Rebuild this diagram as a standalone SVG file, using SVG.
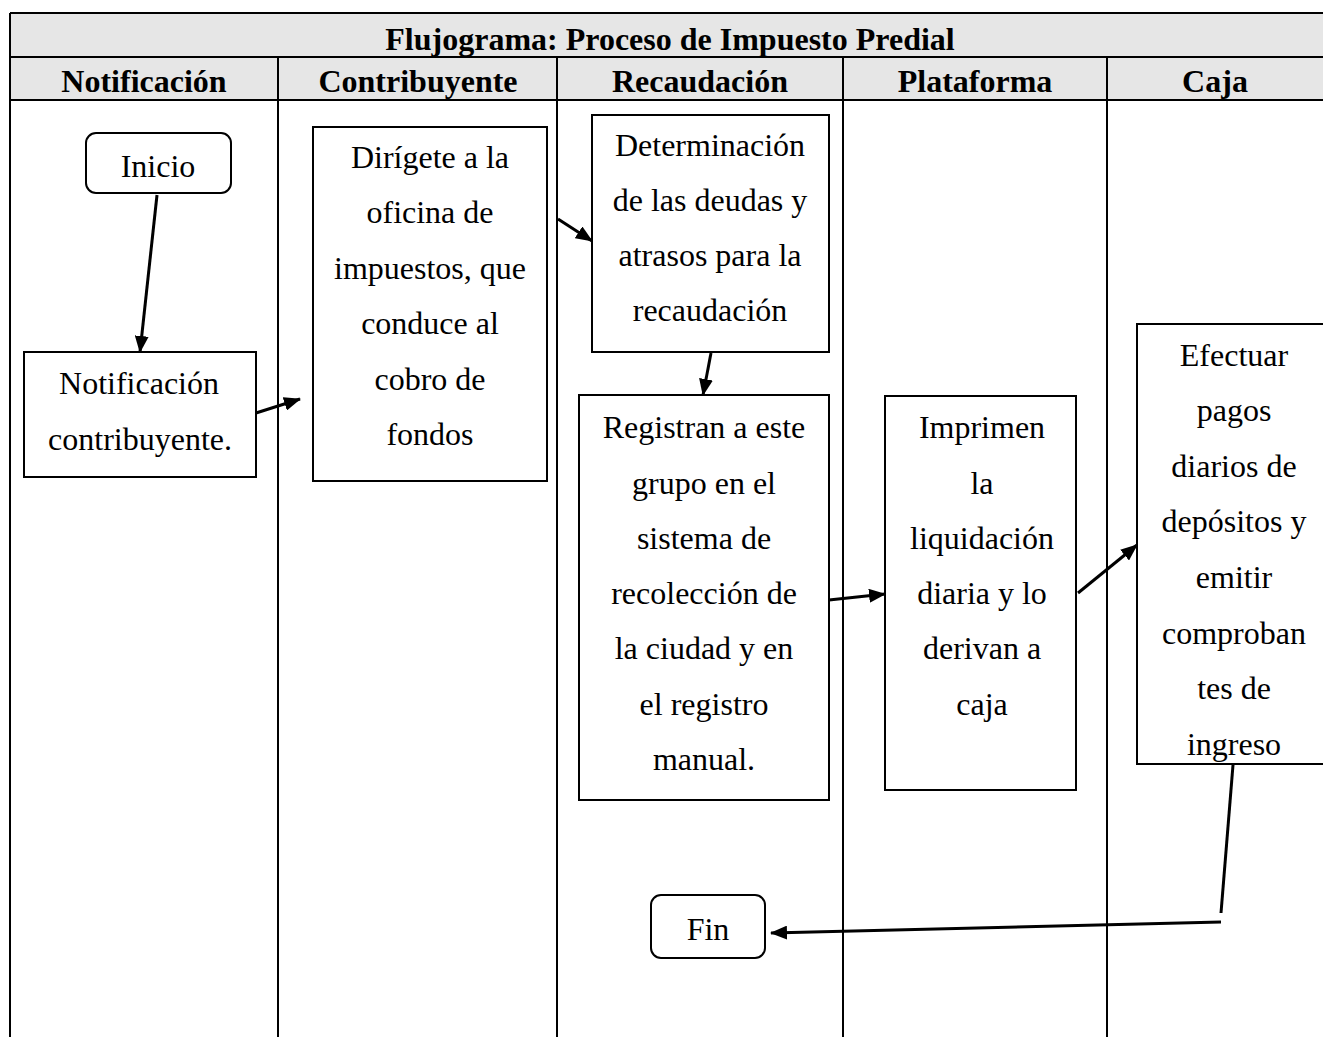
<svg xmlns="http://www.w3.org/2000/svg" width="1323" height="1037" viewBox="0 0 1323 1037">
<style>
.t{font-family:"Liberation Serif","Times New Roman",serif;font-size:32px;fill:#000;text-anchor:middle}
.h{font-family:"Liberation Serif","Times New Roman",serif;font-size:32px;font-weight:bold;fill:#000;text-anchor:middle}
.bx{fill:#fff;stroke:#000;stroke-width:2}
.grid{stroke:#000;stroke-width:2;fill:none}
.c{stroke:#000;stroke-width:3;fill:none}
</style>
<defs>
<marker id="ah" markerUnits="userSpaceOnUse" markerWidth="18" markerHeight="14" refX="16" refY="7" orient="auto">
<path d="M0,0 L17,7 L0,14 Z" fill="#000"/>
</marker>
</defs>
<g id="table">
<rect x="10" y="13" width="1330" height="87" fill="#e6e6e6"/>
<line class="grid" x1="10" y1="13" x2="1323" y2="13"/>
<line class="grid" x1="10" y1="57" x2="1323" y2="57"/>
<line class="grid" x1="10" y1="100" x2="1323" y2="100"/>
<line class="grid" x1="10" y1="13" x2="10" y2="1037"/>
<line class="grid" x1="278" y1="57" x2="278" y2="1037"/>
<line class="grid" x1="557" y1="57" x2="557" y2="1037"/>
<line class="grid" x1="843" y1="57" x2="843" y2="1037"/>
<line class="grid" x1="1107" y1="57" x2="1107" y2="1037"/>
<text class="h" x="670" y="50">Flujograma: Proceso de Impuesto Predial</text>
<text class="h" x="144" y="92">Notificación</text>
<text class="h" x="418" y="92">Contribuyente</text>
<text class="h" x="700" y="92">Recaudación</text>
<text class="h" x="975" y="92">Plataforma</text>
<text class="h" x="1215" y="92">Caja</text>
</g>
<g id="inicio">
<rect class="bx" x="86" y="133" width="145" height="60" rx="10"/>
<text class="t" x="158" y="177">Inicio</text>
</g>
<g id="notificacion">
<rect class="bx" x="24" y="352" width="232" height="125"/>
<text class="t" x="139" y="394">Notificación</text>
<text class="t" x="140" y="450">contribuyente.</text>
</g>
<g id="dirigete">
<rect class="bx" x="313" y="127" width="234" height="354"/>
<text class="t" x="430" y="168">Dirígete a la</text>
<text class="t" x="430" y="223">oficina de</text>
<text class="t" x="430" y="279">impuestos, que</text>
<text class="t" x="430" y="334">conduce al</text>
<text class="t" x="430" y="390">cobro de</text>
<text class="t" x="430" y="445">fondos</text>
</g>
<g id="determinacion">
<rect class="bx" x="592" y="115" width="237" height="237"/>
<text class="t" x="710" y="156">Determinación</text>
<text class="t" x="710" y="211">de las deudas y</text>
<text class="t" x="710" y="266">atrasos para la</text>
<text class="t" x="710" y="321">recaudación</text>
</g>
<g id="registran">
<rect class="bx" x="579" y="395" width="250" height="405"/>
<text class="t" x="704" y="438">Registran a este</text>
<text class="t" x="704" y="494">grupo en el</text>
<text class="t" x="704" y="549">sistema de</text>
<text class="t" x="704" y="604">recolección de</text>
<text class="t" x="704" y="659">la ciudad y en</text>
<text class="t" x="704" y="715">el registro</text>
<text class="t" x="704" y="770">manual.</text>
</g>
<g id="imprimen">
<rect class="bx" x="885" y="396" width="191" height="394"/>
<text class="t" x="982" y="438">Imprimen</text>
<text class="t" x="982" y="494">la</text>
<text class="t" x="982" y="549">liquidación</text>
<text class="t" x="982" y="604">diaria y lo</text>
<text class="t" x="982" y="659">derivan a</text>
<text class="t" x="982" y="715">caja</text>
</g>
<g id="efectuar">
<text class="t" x="1234" y="366">Efectuar</text>
<text class="t" x="1234" y="421">pagos</text>
<text class="t" x="1234" y="477">diarios de</text>
<text class="t" x="1234" y="532">depósitos y</text>
<text class="t" x="1234" y="588">emitir</text>
<text class="t" x="1234" y="644">comproban</text>
<text class="t" x="1234" y="699">tes de</text>
<text class="t" x="1234" y="755">ingreso</text>
<path class="grid" d="M1330,324 L1137,324 L1137,764 L1330,764"/>
</g>
<g id="fin">
<rect class="bx" x="651" y="895" width="114" height="63" rx="10"/>
<text class="t" x="708" y="940">Fin</text>
</g>
<g id="connectors">
<line class="c" x1="157" y1="195" x2="140" y2="352" marker-end="url(#ah)"/>
<line class="c" x1="256" y1="413" x2="300" y2="399" marker-end="url(#ah)"/>
<line class="c" x1="558" y1="219" x2="592" y2="241" marker-end="url(#ah)"/>
<line class="c" x1="711" y1="353" x2="703" y2="395" marker-end="url(#ah)"/>
<line class="c" x1="829" y1="600" x2="885" y2="594" marker-end="url(#ah)"/>
<line class="c" x1="1078" y1="593" x2="1137" y2="545" marker-end="url(#ah)"/>
<line class="c" x1="1233" y1="765" x2="1221" y2="913"/>
<line class="c" x1="1221" y1="922" x2="771" y2="933" marker-end="url(#ah)"/>
</g>
</svg>
